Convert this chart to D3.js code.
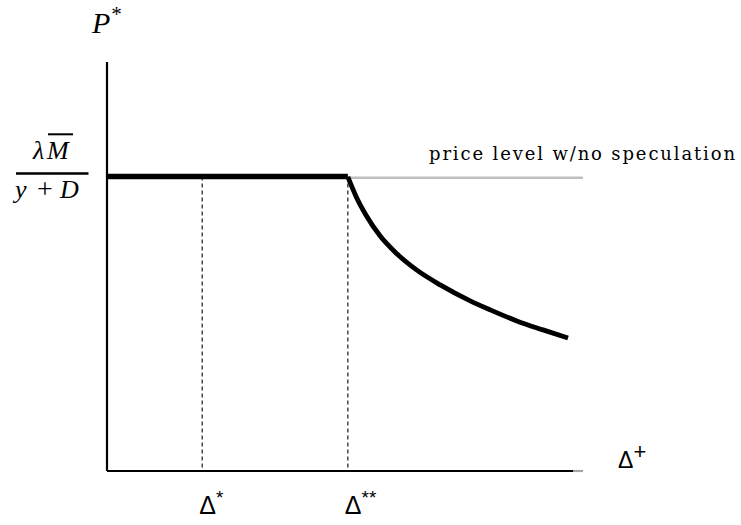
<!DOCTYPE html>
<html>
<head>
<meta charset="utf-8">
<script src="https://cdn.jsdelivr.net/npm/d3@7"></script>
<style>
  body { margin: 0; background: #fff; }
  svg { display: block; }
</style>
</head>
<body>
<div id="chart"></div>
<script>
// values (arbitrary units, axes run 0..100)
const priceLevel = 72;
const thresholds = [
    { name: "Δ", sup: "*", x: 20 },
    { name: "Δ", sup: "**", x: 50.6 }
];
// P* once speculation kicks in (x > Δ**)
const curveX = [50.6, 52.3, 54.4, 57.35, 60.9, 65.1, 70.0, 76.3, 80.5, 86.1, 91.6, 96.85];
const curveY = [71.9, 67.2, 62.6, 57.5, 53.1, 49.1, 45.5, 41.6, 39.4, 36.7, 34.5, 32.5];
const axisEnd = 100;
const axisBlackEnd = 98;

const width = 741, height = 525;

const svg = d3.select("#chart").append("svg")
    .attr("width", width)
    .attr("height", height);

const x = d3.scaleLinear().domain([0, 100]).range([107, 583]);
const y = d3.scaleLinear().domain([0, 100]).range([471, 62]);

const line = d3.line().x(d => x(d[0])).y(d => y(d[1]));

// grey reference line: price level with no speculation
svg.append("path")
    .attr("d", line([[thresholds[1].x, priceLevel - 0.3], [axisEnd, priceLevel - 0.3]]))
    .attr("stroke", "#bfbfbf")
    .attr("stroke-width", 2.5)
    .attr("fill", "none");

// dashed verticals at the thresholds
svg.append("g")
    .selectAll("path")
    .data(thresholds)
    .enter().append("path")
    .attr("d", d => line([[d.x, priceLevel], [d.x, 0]]))
    .attr("stroke", "#1a1a1a")
    .attr("stroke-width", 1.2)
    .attr("stroke-dasharray", "4,3")
    .attr("fill", "none");

// axes
svg.append("path")
    .attr("d", line([[0, 0], [0, 100]]))
    .attr("stroke", "#000")
    .attr("stroke-width", 2.2)
    .attr("fill", "none");
svg.append("path")
    .attr("d", line([[0, 0], [axisBlackEnd, 0]]))
    .attr("stroke", "#000")
    .attr("stroke-width", 2.2)
    .attr("fill", "none");
svg.append("path")
    .attr("d", line([[axisBlackEnd, 0], [axisEnd, 0]]))
    .attr("stroke", "#a6a6a6")
    .attr("stroke-width", 2.2)
    .attr("fill", "none");

// flat part of P*
svg.append("path")
    .attr("d", line([[0, priceLevel], [thresholds[1].x, priceLevel]]))
    .attr("stroke", "#000")
    .attr("stroke-width", 5.5)
    .attr("fill", "none");

// falling part of P*
svg.append("path")
    .attr("d", d3.line().curve(d3.curveMonotoneX)
        .x(d => x(d[0])).y(d => y(d[1]))(d3.zip(curveX, curveY)))
    .attr("stroke", "#000")
    .attr("stroke-width", 4.8)
    .attr("fill", "none");

// labels
const serif = "'Liberation Serif', 'DejaVu Serif', serif";
const sans = "'Liberation Sans', 'DejaVu Sans', sans-serif";

const pLabel = svg.append("text")
    .attr("x", 92)
    .attr("y", 33)
    .attr("font-family", serif)
    .attr("font-size", 30)
    .attr("font-style", "italic");
pLabel.append("tspan").text("P");
pLabel.append("tspan").attr("font-style", "normal").attr("font-size", 21).attr("dy", -12).attr("dx", 1).text("*");

// fraction λM̄ / (y + D), glyphs placed one by one (math font is wide)
const num = svg.append("text")
    .attr("y", 158.5)
    .attr("font-family", serif)
    .attr("font-size", 26)
    .attr("font-style", "italic");
num.append("tspan").attr("x", 33).text("λ");
num.append("tspan").attr("x", 47).text("M");
svg.append("line")
    .attr("x1", 48).attr("x2", 73)
    .attr("y1", 134.3).attr("y2", 134.3)
    .attr("stroke", "#000").attr("stroke-width", 2);
svg.append("line")
    .attr("x1", 16).attr("x2", 88.5)
    .attr("y1", 173.5).attr("y2", 173.5)
    .attr("stroke", "#000").attr("stroke-width", 2.5);
const den = svg.append("text")
    .attr("y", 198)
    .attr("font-family", serif)
    .attr("font-size", 26);
den.append("tspan").attr("x", 15).attr("font-style", "italic").text("y");
den.append("tspan").attr("x", 37).attr("font-size", 28).text("+");
den.append("tspan").attr("x", 60).attr("font-style", "italic").text("D");

svg.append("text")
    .attr("x", 735)
    .attr("y", 160)
    .attr("text-anchor", "end")
    .attr("font-family", "'DejaVu Serif', serif")
    .attr("font-size", 18)
    .attr("textLength", 306)
    .attr("lengthAdjust", "spacing")
    .text("price level w/no speculation");

// threshold labels under the x axis
const tl = svg.append("g")
    .selectAll("text")
    .data(thresholds)
    .enter().append("text")
    .attr("x", d => x(d.x) - 3)
    .attr("y", 514)
    .attr("font-family", sans)
    .attr("font-size", 25);
tl.append("tspan").text(d => d.name);
tl.append("tspan").attr("font-size", 19).attr("dy", -10).text(d => d.sup);

const xl = svg.append("text")
    .attr("x", 618)
    .attr("y", 468)
    .attr("font-family", sans)
    .attr("font-size", 23);
xl.append("tspan").text("Δ");
xl.append("tspan").attr("font-size", 22).attr("dy", -9).text("+");
</script>
</body>
</html>
